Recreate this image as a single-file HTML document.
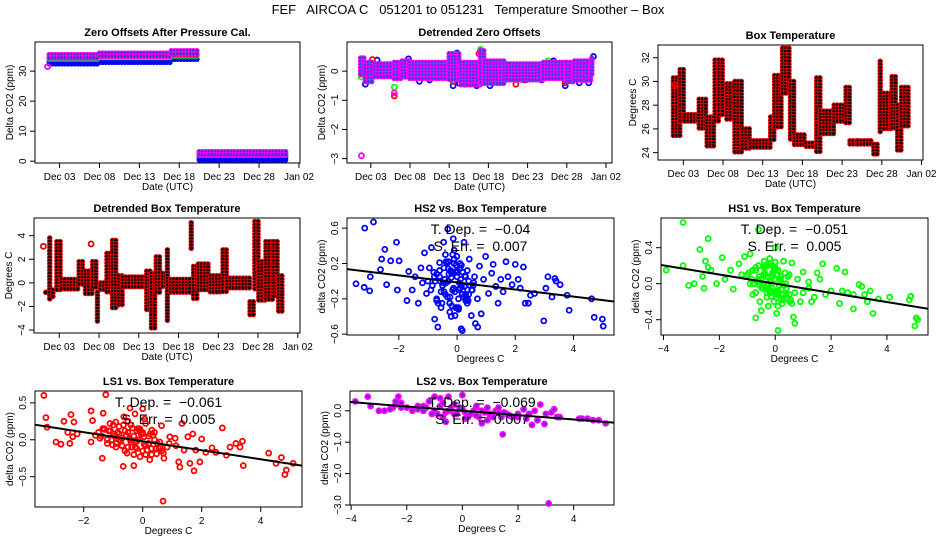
<!DOCTYPE html>
<html><head><meta charset="utf-8">
<style>
html,body{margin:0;padding:0;background:#fff;}
svg{display:block;font-family:"Liberation Sans",sans-serif;}
text{white-space:pre;}
</style></head>
<body>
<svg id="c" width="936" height="540" viewBox="0 0 936 540" xmlns="http://www.w3.org/2000/svg">
<rect width="936" height="540" fill="#fff"/>
<text x="468" y="14" text-anchor="middle" font-size="13" xml:space="preserve">FEF   AIRCOA C   051201 to 051231   Temperature Smoother – Box</text>
</svg>
<script>
// ---------- data ----------
const dateTicks = [3, 8, 13, 18, 23, 28, 33];
const dateTickLabels = ["Dec 03", "Dec 08", "Dec 13", "Dec 18", "Dec 23", "Dec 28", "Jan 02"];

// Panel 1: zero offsets bands
const zoSegStart = [1.7, 8, 17, 20.5];
const zoSegEnd = [8, 17, 20.5, 31.5];
const zoBlueLow = [31.8, 32.3, 33, 0.4];
const zoBlueHigh = [33.5, 34, 35, 1.5];
const zoGreenLow = [33, 33.5, 34, 1];
const zoGreenHigh = [34, 34.5, 35, 2];
const zoRedLow = [33.5, 34, 34.5, 1.5];
const zoRedHigh = [34.5, 35, 35.5, 2.5];
const zoMagLow = [34, 34.5, 35, 2];
const zoMagHigh = [35.5, 36, 36.8, 3.2];

// Panel 2: detrended zero offsets
const dzStart = [1.7, 2.3, 3.5, 6, 7, 8, 13, 14.5, 17, 17.5, 20, 25, 28, 29, 31.2];
const dzEnd = [2.3, 3.5, 6, 7, 8, 13, 14.5, 17, 17.5, 20, 25, 28, 29, 31.2, 31.5];
const dzLow = [-0.2, -0.4, -0.25, -0.25, -0.3, -0.3, -0.35, -0.5, -0.4, -0.45, -0.3, -0.3, -0.45, -0.35, -0.1];
const dzHigh = [0.45, 0.3, 0.25, 0.3, 0.35, 0.3, 0.6, 0.3, 0.7, 0.35, 0.25, 0.3, 0.3, 0.35, 0.45];
const dzBlueDays = [2.3, 3.8, 7.8, 9.2, 13.5, 14, 14.3, 15, 16.5, 17, 18.2, 19, 24.8, 26.3, 27.8, 29.6, 30.8, 31.4, 13.6, 22.5, 10.5];
const dzBlueVals = [-0.45, 0.38, 0.42, -0.35, -0.5, 0.62, -0.42, -0.45, -0.5, 0.7, -0.5, -0.35, -0.3, 0.35, -0.5, -0.4, -0.4, 0.5, 0.35, -0.3, -0.3];
const dzRedDays = [1.8, 3.2, 6, 13.5, 16.8, 21.5, 22.8, 27.8, 30];
const dzRedVals = [-0.1, 0.4, -0.85, -0.35, 0.6, -0.45, -0.3, -0.4, 0.3];
const dzGreenDays = [1.8, 6, 17, 25.6, 28.2];
const dzGreenVals = [-0.2, -0.55, 0.75, 0.35, -0.3];
const dzMagDays = [1.8, 6];
const dzMagVals = [-2.9, -0.75];

// Panel 3: box temperature segments
const btStart = [1.75, 2.6, 3.2, 5, 6, 7, 7.5, 8.5, 9.5, 10.5, 11.5, 14, 14.5, 15.5, 16.5, 17, 18.5, 19.8, 20.3, 22, 23.5, 24, 25, 27, 27.8, 28.3, 29.3, 30, 30.5];
const btEnd = [2.6, 3.2, 5, 6, 7, 7.5, 8.3, 9.5, 10.5, 11.5, 14, 14.5, 15.5, 16.5, 17, 18.5, 19.8, 20.3, 22, 23.5, 24, 25, 27, 27.8, 28.2, 29.3, 30, 30.5, 31.5];
const btLow = [25.2, 26.5, 26.5, 26, 24.5, 26.5, 27, 26.8, 24, 24.3, 24.2, 25, 26, 29, 25, 24.5, 24.4, 24, 25.5, 26.5, 26.5, 24.5, 24.5, 23.7, 25.6, 25.8, 26, 24, 26];
const btHigh = [30.3, 31, 27.2, 28.5, 27, 31.8, 31.8, 29.8, 30, 26, 25, 27, 30.5, 32.8, 30, 25.5, 24.8, 30.3, 27.5, 28, 29.5, 25, 25, 24.7, 31.7, 29, 30.4, 28, 29.5];
const btSingleDays = [1.9];
const btSingleVals = [29.7];

// Panel 4: detrended box temperature segments
const dbStart = [1.3, 1.8, 2.2, 2.7, 3.3, 5.5, 6.3, 7.2, 7.8, 8.2, 9, 9.7, 10.5, 11, 14, 14.6, 15.2, 16, 16.6, 17, 19.6, 19.9, 20.5, 22, 23.6, 24.1, 27, 27.6, 28.1, 29, 30, 30.6];
const dbEnd = [1.7, 2.2, 2.6, 3.3, 5.5, 6.3, 7.2, 7.7, 8.2, 9, 9.7, 10.5, 11, 14, 14.6, 15.2, 16, 16.6, 17, 19.5, 19.9, 20.5, 22, 23.5, 24.1, 27, 27.6, 28.1, 29, 30, 30.6, 31.3];
const dbLow = [-1.0, -1.5, -1.3, -0.8, -0.6, -0.3, -1.0, -0.5, -3.4, -0.8, -1.0, -2.3, -2.0, -0.5, -2.3, -4.0, -1.0, -0.5, -3.4, -0.8, 2.9, -1.5, -0.8, -0.8, -0.9, -0.6, -2.7, -0.5, -1.7, -1.5, -1.3, -2.5];
const dbHigh = [-0.8, 3.8, -0.6, 3.5, 0.3, 1.8, 1.0, 1.8, -0.8, 0.0, 2.5, 3.6, 0.6, 0.5, 1.0, 0.8, 2.2, 0.8, 2.8, 0.3, 5.1, 1.4, 1.6, 0.6, 2.8, 0.4, -1.6, 5.2, 1.8, 3.5, 3.5, 0.6];
const dbSingleDays = [1.0, 7.0];
const dbSingleVals = [3.1, 3.3];

// Panel 5: HS2 vs box temperature
const hs2X = [-3.47,-3.19,-3.17,-3.0,-2.98,-2.87,-2.63,-2.59,-2.48,-2.42,-2.28,-2.08,-2.05,-1.99,-1.72,-1.66,-1.54,-1.44,-1.33,-1.24,-1.19,-1.12,-1.05,-0.88,-0.77,-0.66,-0.6,-0.52,-0.46,-0.38,-0.32,-0.24,-0.18,-0.13,-0.07,-0.01,0.07,0.14,0.18,0.24,0.29,0.35,0.42,0.49,0.57,0.63,0.71,0.77,0.83,0.91,0.98,1.08,1.19,1.24,1.33,1.41,1.5,1.58,1.68,1.75,1.89,2.0,2.1,2.17,2.28,2.34,2.45,2.52,2.66,2.98,3.05,3.12,3.26,3.36,3.4,3.54,3.78,3.85,4.62,4.71,4.99,5.02,
 -1.0,-0.9,-0.8,-0.7,-0.6,-0.5,-0.45,-0.4,-0.35,-0.3,-0.25,-0.2,-0.15,-0.1,-0.05,0.0,0.05,0.1,0.15,0.2,0.3,0.4,0.5,0.6,0.7,-0.55,-0.4,-0.25,-0.1,0.05,0.2,0.35,-0.75,-0.2,0.1,0.45,-0.3,0.0,0.3,-0.6,
 -0.85,-0.7,-0.55,-0.42,-0.33,-0.22,-0.12,-0.03,0.08,0.18,0.27,0.38,0.52,-0.95,-0.65,-0.48,-0.28,-0.08,0.12,0.32,0.55,-0.78,-0.38,-0.18,0.02,0.22,-0.58,-0.15,0.0,0.15,-0.45,-0.05,0.25,-0.7,-0.3,0.1,-0.2,0.4,-0.1,0.05];
const hs2Y = [-0.03,-0.07,0.6,-0.11,0.05,0.67,0.13,0.25,0.36,-0.04,0.23,0.44,-0.1,0.23,-0.22,0.11,-0.1,0.05,-0.25,0.15,-0.02,0.32,-0.14,0.38,-0.43,-0.52,0.21,-0.25,0.44,-0.02,0.59,-0.18,0.09,0.48,-0.39,0.28,-0.1,-0.54,-0.56,0.44,0.05,-0.25,0.25,-0.39,-0.02,-0.48,-0.52,0.17,-0.37,0.02,0.28,-0.14,0.09,0.19,-0.06,-0.25,0.02,-0.12,0.22,0.05,-0.04,0.19,0.02,-0.08,0.16,-0.25,-0.25,-0.16,-0.14,-0.45,-0.08,0.05,-0.18,0.03,0.0,-0.04,-0.16,-0.33,-0.2,-0.41,-0.43,-0.51,
 0.0,-0.1,0.1,-0.2,0.05,-0.05,0.15,-0.15,0.2,0.0,-0.25,0.1,-0.1,0.25,-0.3,0.05,-0.2,0.15,-0.05,0.1,-0.15,0.0,-0.1,0.05,-0.2,-0.3,0.3,-0.35,0.35,-0.3,-0.1,0.12,0.0,-0.4,0.2,-0.05,0.22,0.12,-0.22,0.12,
 -0.05,0.08,-0.12,0.02,-0.18,0.12,-0.08,0.18,-0.02,-0.15,0.06,-0.22,-0.1,0.15,-0.25,-0.02,0.08,-0.12,0.02,-0.2,-0.05,0.05,0.22,-0.28,0.1,-0.18,0.0,0.3,-0.3,0.18,-0.12,0.1,-0.06,-0.22,0.14,-0.08,0.04,-0.15,0.2,-0.32];
const hs2Slope = [-0.04];
const hs2Intercept = [-0.015];

// Panel 6: HS1 vs box temperature
const hs1X = [-3.9,-3.3,-3.3,-3.1,-2.9,-2.7,-2.6,-2.55,-2.5,-2.4,-2.4,-2.3,-2.1,-1.9,-1.8,-1.6,-1.5,-1.3,-1.2,-1.1,-0.9,-0.8,-0.7,-0.6,-0.5,-0.4,-0.3,-0.2,0.0,0.05,0.1,0.2,0.3,0.4,0.5,0.6,0.65,0.7,0.8,0.9,1.0,1.2,1.3,1.5,1.6,1.7,1.8,2.0,2.2,2.3,2.4,2.5,2.6,2.8,2.8,3.0,3.1,3.2,3.3,3.4,3.5,3.7,4.1,4.8,4.85,5.0,5.05,5.1,
 -1.0,-0.9,-0.8,-0.7,-0.6,-0.5,-0.45,-0.4,-0.35,-0.3,-0.25,-0.2,-0.15,-0.1,-0.05,0.0,0.05,0.1,0.15,0.2,0.3,0.4,0.5,0.6,0.7,-0.55,-0.4,-0.25,-0.1,0.05,0.2,0.35,-0.75,-0.2,0.1,0.45,-0.3,0.0,0.3,-0.6,1.0,1.2,1.4,
 -0.85,-0.7,-0.55,-0.42,-0.33,-0.22,-0.12,-0.03,0.08,0.18,0.27,0.38,0.52,-0.95,-0.65,-0.48,-0.28,-0.08,0.12,0.32,0.55,-0.78,-0.38,-0.18,0.02,0.22,-0.58,-0.15,0.0,0.15,-0.45,-0.05,0.25,-0.7,-0.3,0.1,-0.2,0.4,-0.1,0.05];
const hs1Y = [0.15,0.2,0.68,-0.02,0.0,0.38,0.08,-0.05,0.25,0.5,0.18,0.15,0.0,0.29,0.05,0.15,-0.06,0.22,0.1,0.3,0.33,-0.12,-0.38,0.6,-0.3,0.2,-0.1,0.28,0.4,-0.33,-0.52,-0.18,0.25,-0.05,-0.12,0.23,-0.37,-0.44,0.05,-0.2,0.13,-0.05,-0.2,0.12,0.05,0.22,-0.12,-0.08,0.17,-0.22,-0.08,0.13,-0.1,-0.12,-0.28,-0.01,-0.03,-0.12,-0.2,-0.08,-0.33,-0.17,-0.15,-0.18,-0.14,-0.47,-0.38,-0.4,
 0.1,0.0,0.15,-0.1,0.2,0.05,-0.05,0.18,0.1,-0.15,0.0,0.22,-0.08,0.12,-0.2,0.05,-0.12,0.15,-0.02,0.08,-0.18,-0.05,0.1,-0.22,-0.1,-0.2,0.25,-0.25,0.2,-0.15,0.02,0.12,0.0,-0.08,-0.25,0.08,-0.02,0.18,-0.12,0.05,-0.1,0.02,-0.15,
 0.05,0.15,-0.02,0.1,0.2,-0.08,0.08,0.18,-0.1,0.04,-0.16,0.0,-0.2,0.12,0.02,-0.05,0.2,0.1,-0.12,-0.02,-0.18,0.0,0.12,-0.1,0.16,-0.06,0.08,-0.14,0.24,0.06,-0.02,0.14,-0.22,0.18,0.08,-0.08,0.02,-0.12,-0.05,0.1];
const hs1Slope = [-0.051];
const hs1Intercept = [0.0];

// Panel 7: LS1 vs box temperature
const ls1X = [-3.35,-3.28,-3.24,-2.94,-2.77,-2.67,-2.54,-2.47,-2.43,-2.37,-2.33,-2.22,-1.75,-1.75,-1.7,-1.6,-1.37,-1.34,-1.25,-1.29,-1.11,-1.02,-0.91,-0.8,-0.66,-0.64,-0.53,-0.43,-0.37,-0.3,-0.26,-0.16,-0.09,0.0,0.04,0.07,0.15,0.24,0.31,0.47,0.58,0.64,0.69,0.72,0.83,0.92,1.13,1.22,1.26,1.33,1.4,1.53,1.6,1.7,1.74,1.8,1.94,2.0,2.14,2.35,2.48,2.7,2.84,2.96,3.16,3.3,3.38,3.41,4.27,4.52,4.7,4.82,4.87,5.1,
 -1.5,-1.4,-1.3,-1.2,-1.1,-1.0,-0.9,-0.8,-0.7,-0.6,-0.5,-0.4,-0.3,-0.2,-0.1,0.0,0.1,0.2,0.3,0.4,0.5,-1.2,-0.9,-0.6,-0.3,0.0,0.3,0.6,-1.0,-0.5,0.1,0.7,-0.4,0.0,0.4,-0.8,-0.2,0.2,
 -1.45,-1.15,-0.95,-0.75,-0.55,-0.35,-0.15,0.05,0.25,0.45,0.65,-1.35,-1.05,-0.85,-0.65,-0.45,-0.25,-0.05,0.15,0.35,0.55,-0.7,-0.4,-0.1,0.2,-0.5,-0.2,0.1,0.9,1.1];
const ls1Y = [0.6,0.3,0.17,-0.03,-0.06,0.25,0.1,-0.05,0.34,0.04,0.24,0.08,0.39,-0.03,0.26,0.06,-0.25,0.36,0.61,0.14,0.22,-0.07,0.24,0.08,-0.36,0.31,-0.18,0.43,-0.1,-0.35,0.35,0.15,-0.23,0.42,0.04,0.28,-0.14,-0.27,0.13,-0.19,-0.03,0.19,-0.83,-0.25,-0.1,0.04,-0.08,-0.3,-0.37,0.22,-0.14,0.04,-0.32,0.08,-0.42,-0.14,-0.3,0.01,-0.17,-0.11,-0.17,0.16,-0.21,-0.1,-0.05,-0.1,-0.02,-0.35,-0.18,-0.32,-0.24,-0.47,-0.41,-0.32,
 0.1,0.05,0.15,0.0,0.12,0.08,-0.05,0.18,0.02,0.12,-0.1,0.2,0.05,-0.02,0.15,0.1,-0.08,0.05,-0.12,0.0,-0.05,-0.05,-0.1,-0.15,-0.2,-0.15,-0.2,-0.1,0.2,0.25,0.22,-0.18,0.0,0.08,0.1,0.0,0.12,-0.05,
 0.02,0.12,0.05,-0.02,0.06,0.16,0.0,-0.06,0.08,-0.12,-0.15,0.15,0.0,0.1,0.2,0.02,-0.1,0.08,-0.14,0.06,-0.12,-0.08,-0.03,0.12,-0.06,0.1,-0.12,-0.2,-0.05,0.02];
const ls1Slope = [-0.061];
const ls1Intercept = [-0.02];

// Panel 8: LS2 vs box temperature
const ls2X = [-3.85,-3.4,-3.3,-3.0,-2.8,-2.5,-2.4,-2.3,-2.2,-2.6,-2.0,-1.8,-1.6,-1.4,-1.2,-1.0,-0.8,-0.6,-0.5,-0.3,0.0,0.2,0.5,0.7,1.0,1.2,1.45,1.6,2.0,2.2,2.4,2.5,2.7,2.8,2.95,3.1,3.2,3.3,3.4,4.2,4.5,4.9,5.15,
 -1.6,-1.3,-1.0,-0.8,-0.6,-0.4,-0.2,0.0,0.2,0.4,0.6,0.8,1.0,1.2,1.4,1.6,1.8,2.0,-1.1,-0.7,-0.3,0.1,0.5,0.9,1.3,1.7,2.3,2.6,3.0,3.5,4.3,4.7,
 -0.9,-0.5,-0.1,0.3,0.7,1.1,1.5,-0.7,-0.3,0.1,0.5,0.9,1.3,-1.4,-2.4,-2.2];
const ls2Y = [0.3,0.45,0.15,0.0,0.0,0.1,0.2,0.45,0.1,0.05,0.1,0.0,0.15,0.0,0.3,0.45,0.4,-0.35,0.45,-0.1,0.5,-0.2,0.1,-0.4,-0.1,0.0,-0.75,-0.1,-0.2,0.05,-0.1,-0.45,-0.3,0.2,-0.42,-2.95,-0.05,0.05,-0.2,-0.25,-0.25,-0.3,-0.4,
 0.05,0.1,0.0,0.15,-0.05,0.1,-0.1,0.05,-0.15,0.0,-0.2,-0.05,-0.15,0.0,-0.2,-0.1,-0.2,-0.1,-0.1,-0.2,0.2,-0.25,0.15,-0.3,0.1,-0.15,-0.25,0.0,-0.1,-0.2,-0.25,-0.3,
 -0.1,0.0,0.1,-0.1,0.0,-0.2,-0.05,0.25,0.2,-0.05,-0.15,0.1,-0.05,0.15,0.3,0.25];
const ls2Slope = [-0.069];
const ls2Intercept = [0.0];

// ---------- drawing ----------
const svg = document.getElementById('c');
const NS = 'http://www.w3.org/2000/svg';
function mk(tag, attrs, parent) {
  const e = document.createElementNS(NS, tag);
  for (const k in attrs) e.setAttribute(k, attrs[k]);
  (parent || svg).appendChild(e);
  return e;
}
function lin(d0, d1, r0, r1) { return v => r0 + (v - d0) * (r1 - r0) / (d1 - d0); }

function panel(name, box, xd, yd, title, xlab, ylab, xt, xtl, yt, ytl) {
  const g = mk('g', {});
  
  
  const [L, T, R, B] = box;
  const sx = lin(xd[0], xd[1], L, R), sy = lin(yd[0], yd[1], T, B);
  const t = mk('text', {x: (L + R) / 2, y: T - 6, 'text-anchor': 'middle', 'font-size': 11, 'font-weight': 'bold'}, g);
  t.textContent = title;
  
  
  const ax = mk('g', {stroke: '#000', 'stroke-width': 1, fill: 'none'}, g);
  
  
  mk('rect', {x: L, y: T, width: R - L, height: B - T}, ax);
  xt.forEach((v, i) => {
    const x = sx(v);
    mk('line', {x1: x, x2: x, y1: B, y2: B + 5}, ax);
    const tl = mk('text', {x: x, y: B + 17, 'text-anchor': 'middle', 'font-size': 10}, g);
    tl.textContent = xtl[i];
    
    
  });
  yt.forEach((v, i) => {
    const y = sy(v);
    mk('line', {x1: L - 5, x2: L, y1: y, y2: y}, ax);
    const tl = mk('text', {x: L - 9, y: y, 'text-anchor': 'middle', 'font-size': 10, transform: `rotate(-90 ${L - 9} ${y})`}, g);
    tl.textContent = ytl[i];
    
    
  });
  const xl = mk('text', {x: (L + R) / 2, y: B + 27, 'text-anchor': 'middle', 'font-size': 10}, g);
  xl.textContent = xlab;
  
  
  const yx = L - 22, yy = (T + B) / 2;
  const yl = mk('text', {x: yx, y: yy, 'text-anchor': 'middle', 'font-size': 10, transform: `rotate(-90 ${yx} ${yy})`}, g);
  yl.textContent = ylab;
  
  
  const clip = 'cl' + name;
  const cp = mk('clipPath', {id: clip}, g);
  mk('rect', {x: L, y: T - 3, width: R - L, height: B - T + 6}, cp);
  const plot = mk('g', {'clip-path': `url(#${clip})`}, g);
  
  
  return {g: plot, sx, sy, ann: g, box};
}

function pt(p, x, y, stroke, fill, nm) {
  const c = mk('circle', {cx: p.sx(x), cy: p.sy(y), r: 2.5, stroke: stroke, 'stroke-width': 1.8, fill: fill}, p.g);
  
  
}
function band(p, s0, s1, lo, hi, stroke, fill, nm, step) {
  const gg = mk('g', {}, p.g);
  
  
  const st = step || 3.2;
  for (let i = 0; i < s0.length; i++) {
    const x0 = p.sx(s0[i]), x1 = p.sx(s1[i]);
    const y0 = p.sy(hi[i]), y1 = p.sy(lo[i]);
    for (let x = x0; x <= x1 + 0.01; x += st) {
      for (let y = y0; y <= y1 + 0.01; y += st) {
        mk('circle', {cx: x, cy: y, r: 2.2, stroke: stroke, 'stroke-width': 1.1, fill: fill}, gg);
      }
    }
  }
}
function fit(p, slope, icpt, xd) {
  const l = mk('line', {x1: p.sx(xd[0]), y1: p.sy(icpt + slope * xd[0]), x2: p.sx(xd[1]), y2: p.sy(icpt + slope * xd[1]), stroke: '#000', 'stroke-width': 2}, p.g);
  
  
}
function annot(p, a, b) {
  const [L, T, R] = p.box;
  const cx = (L + R) / 2;
  const t1 = mk('text', {x: cx, y: T + 16, 'text-anchor': 'middle', 'font-size': 14}, p.ann);
  t1.textContent = a;
  
  
  const t2 = mk('text', {x: cx, y: T + 33, 'text-anchor': 'middle', 'font-size': 14}, p.ann);
  t2.textContent = b;
  
  
}

// Panel 1
const p1 = panel('zero-offsets-panel', [35, 42, 300, 163], [-0.08, 33.13], [39.7, -0.6], 'Zero Offsets After Pressure Cal.', 'Date (UTC)', 'Delta CO2 (ppm)', dateTicks, dateTickLabels, [0, 10, 20, 30], ['0', '10', '20', '30']);
band(p1, zoSegStart, zoSegEnd, zoBlueLow, zoBlueHigh, '#0000ff', '#0000ff', 'series-hs2');
band(p1, zoSegStart, zoSegEnd, zoGreenLow, zoGreenHigh, '#00ff00', 'none', 'series-hs1');
band(p1, zoSegStart, zoSegEnd, zoRedLow, zoRedHigh, '#ff0000', 'none', 'series-ls1');
band(p1, zoSegStart, zoSegEnd, zoMagLow, zoMagHigh, '#ff00ff', '#4030c0', 'series-ls2');
pt(p1, 1.5, 31.5, '#ff00ff', 'none', 'point');

// Panel 2
const p2 = panel('detrended-zero-offsets-panel', [347, 42, 612, 163], [-0.04, 33.77], [1.0, -3.15], 'Detrended Zero Offsets', 'Date (UTC)', 'Delta CO2 (ppm)', dateTicks, dateTickLabels, [-3, -2, -1, 0], ['−3', '−2', '−1', '0']);
dzBlueDays.forEach((d, i) => pt(p2, d, dzBlueVals[i], '#0000ff', 'none', 'hs2-point'));
dzGreenDays.forEach((d, i) => pt(p2, d, dzGreenVals[i], '#00ff00', 'none', 'hs1-point'));
dzRedDays.forEach((d, i) => pt(p2, d, dzRedVals[i], '#ff0000', 'none', 'ls1-point'));
band(p2, dzStart, dzEnd, dzLow, dzHigh, '#ff00ff', '#3040e0', 'series-ls2');
dzMagDays.forEach((d, i) => pt(p2, d, dzMagVals[i], '#ff00ff', 'none', 'ls2-point'));

// Panel 3
const p3 = panel('box-temperature-panel', [658, 45, 923, 160], [-0.19, 33.19], [33.07, 23.38], 'Box Temperature', 'Date (UTC)', 'Degrees C', dateTicks, dateTickLabels, [24, 26, 28, 30, 32], ['24', '26', '28', '30', '32']);
band(p3, btStart, btEnd, btLow, btHigh, '#e00000', '#000', 'series-box-temp');
btSingleDays.forEach((d, i) => pt(p3, d, btSingleVals[i], '#e00000', 'none', 'point'));

// Panel 4
const p4 = panel('detrended-box-temperature-panel', [34, 218, 300, 333], [-0.18, 33.28], [5.5, -4.25], 'Detrended Box Temperature', 'Date (UTC)', 'Degrees C', dateTicks, dateTickLabels, [-4, -2, 0, 2, 4], ['−4', '−2', '0', '2', '4']);
band(p4, dbStart, dbEnd, dbLow, dbHigh, '#e00000', '#000', 'series-detrended-temp');
dbSingleDays.forEach((d, i) => pt(p4, d, dbSingleVals[i], '#e00000', 'none', 'point'));

// Panel 5
const p5 = panel('hs2-scatter-panel', [347, 218, 614, 335], [-3.78, 5.39], [0.715, -0.61], 'HS2 vs. Box Temperature', 'Degrees C', 'delta CO2 (ppm)', [-2, 0, 2, 4], ['−2', '0', '2', '4'], [-0.6, -0.2, 0.2, 0.6], ['−0.6', '−0.2', '0.2', '0.6']);
hs2X.forEach((x, i) => pt(p5, x, hs2Y[i], '#0000ff', 'none', 'hs2-point'));
fit(p5, hs2Slope[0], hs2Intercept[0], [-3.78, 5.39]);
annot(p5, 'T. Dep. =  −0.04', 'S. Err. =  0.007');

// Panel 6
const p6 = panel('hs1-scatter-panel', [661, 218, 928, 335], [-4.09, 5.47], [0.73, -0.57], 'HS1 vs. Box Temperature', 'Degrees C', 'delta CO2 (ppm)', [-4, -2, 0, 2, 4], ['−4', '−2', '0', '2', '4'], [-0.4, 0, 0.4], ['−0.4', '0.0', '0.4']);
hs1X.forEach((x, i) => pt(p6, x, hs1Y[i], '#00ff00', 'none', 'hs1-point'));
fit(p6, hs1Slope[0], hs1Intercept[0], [-4.09, 5.47]);
annot(p6, 'T. Dep. =  −0.051', 'S. Err. =  0.005');

// Panel 7
const p7 = panel('ls1-scatter-panel', [35, 391, 302, 507], [-3.65, 5.4], [0.66, -0.91], 'LS1 vs. Box Temperature', 'Degrees C', 'delta CO2 (ppm)', [-2, 0, 2, 4], ['−2', '0', '2', '4'], [-0.5, 0, 0.5], ['−0.5', '0.0', '0.5']);
ls1X.forEach((x, i) => pt(p7, x, ls1Y[i], '#ff0000', 'none', 'ls1-point'));
fit(p7, ls1Slope[0], ls1Intercept[0], [-3.65, 5.4]);
annot(p7, 'T. Dep. =  −0.061', 'S. Err. =  0.005');

// Panel 8
const p8 = panel('ls2-scatter-panel', [350, 391, 614, 505], [-4.04, 5.45], [0.63, -3.0], 'LS2 vs. Box Temperature', 'Degrees C', 'delta CO2 (ppm)', [-4, -2, 0, 2, 4], ['−4', '−2', '0', '2', '4'], [-3, -2, -1, 0], ['−3.0', '−2.0', '−1.0', '0.0']);
ls2X.forEach((x, i) => pt(p8, x, ls2Y[i], '#ff00ff', '#6030d0', 'ls2-point'));
fit(p8, ls2Slope[0], ls2Intercept[0], [-4.04, 5.45]);
annot(p8, 'T. Dep. =  −0.069', 'S. Err. =  0.007');
</script>
</body></html>
